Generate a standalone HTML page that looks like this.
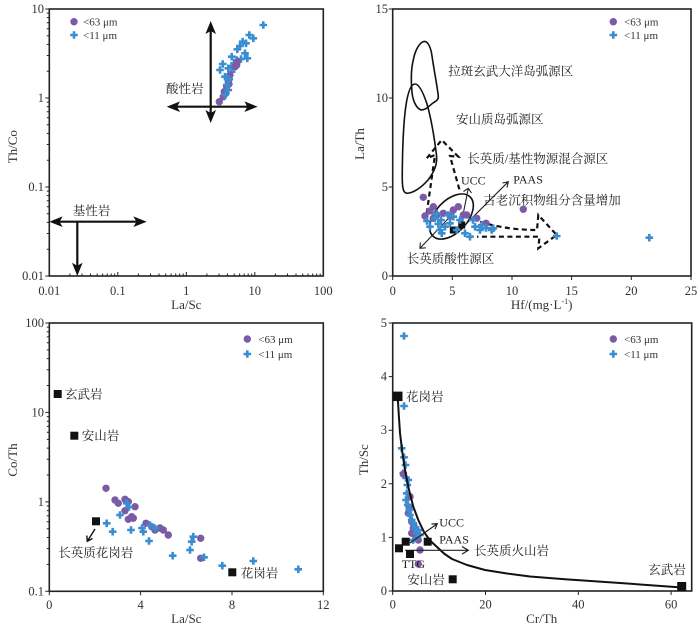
<!DOCTYPE html>
<html><head><meta charset="utf-8"><style>
html,body{margin:0;padding:0;background:#fff;}
svg{display:block;}
.t{font-family:"Liberation Serif","Noto Serif CJK SC",serif;fill:#222;}
.tk{font-size:12.5px;fill:#333;}
.ax{font-size:13px;fill:#333;}
.cn{font-size:12.5px;}
.lg{font-size:11px;fill:#333;}
</style></head><body>
<svg width="700" height="627" viewBox="0 0 700 627" xmlns="http://www.w3.org/2000/svg">
<defs>
<path id="p" d="M-3.8,0H3.8M0,-3.8V3.8" stroke="#3a8dd0" stroke-width="2.6" fill="none"/>
<circle id="c" r="3.7" fill="#7b5ba6"/>
</defs>

<!-- ============ PANEL 1 ============ -->
<g stroke="#222" fill="none">
<rect x="49.3" y="9" width="274" height="267" stroke-width="1.6"/>
<path stroke-width="1" d="M49.3,9h-4M49.3,98h-4M49.3,187h-4M49.3,276h-4
M49.3,249.2h-2.5M49.3,233.5h-2.5M49.3,222.4h-2.5M49.3,213.8h-2.5M49.3,206.7h-2.5M49.3,200.8h-2.5M49.3,195.6h-2.5M49.3,191.1h-2.5
M49.3,160.2h-2.5M49.3,144.5h-2.5M49.3,133.4h-2.5M49.3,124.8h-2.5M49.3,117.7h-2.5M49.3,111.8h-2.5M49.3,106.6h-2.5M49.3,102.1h-2.5
M49.3,71.2h-2.5M49.3,55.5h-2.5M49.3,44.4h-2.5M49.3,35.8h-2.5M49.3,28.7h-2.5M49.3,22.8h-2.5M49.3,17.6h-2.5M49.3,13.1h-2.5
M49.3,276v-4M117.8,276v-4M186.3,276v-4M254.8,276v-4M323.3,276v-4
M69.9,276v-2.5M82,276v-2.5M90.5,276v-2.5M97.2,276v-2.5M102.6,276v-2.5M107.2,276v-2.5M111.2,276v-2.5M114.7,276v-2.5
M138.4,276v-2.5M150.5,276v-2.5M159,276v-2.5M165.7,276v-2.5M171.1,276v-2.5M175.7,276v-2.5M179.7,276v-2.5M183.2,276v-2.5
M206.9,276v-2.5M219,276v-2.5M227.5,276v-2.5M234.2,276v-2.5M239.6,276v-2.5M244.2,276v-2.5M248.2,276v-2.5M251.7,276v-2.5
M275.4,276v-2.5M287.5,276v-2.5M296,276v-2.5M302.7,276v-2.5M308.1,276v-2.5M312.7,276v-2.5M316.7,276v-2.5M320.2,276v-2.5"/>
</g>
<g class="t tk" text-anchor="end">
<text x="44" y="13">10</text><text x="44" y="102">1</text><text x="44" y="191">0.1</text><text x="44" y="280">0.01</text>
</g>
<g class="t tk" text-anchor="middle">
<text x="49.3" y="295">0.01</text><text x="117.8" y="295">0.1</text><text x="186.3" y="295">1</text><text x="254.8" y="295">10</text><text x="323.3" y="295">100</text>
</g>
<text class="t ax" x="186.3" y="309" text-anchor="middle">La/Sc</text>
<text class="t ax" transform="translate(17,146.7) rotate(-90)" text-anchor="middle">Th/Co</text>
<g stroke="#111" stroke-width="2.2" fill="none">
<path d="M210.7,30V114M176,106.7H248"/>
<path d="M58,221.7H138M77.3,221.7V266"/>
</g>
<g fill="#111">
<polygon points="210.7,21 216,34 210.7,31 205.4,34"/>
<polygon points="210.7,123 216,110 210.7,113 205.4,110"/>
<polygon points="166.7,106.7 180,101.4 177,106.7 180,112"/>
<polygon points="257.7,106.7 244.4,101.4 247.4,106.7 244.4,112"/>
<polygon points="49.3,221.7 62.6,216.4 59.6,221.7 62.6,227"/>
<polygon points="146.7,221.7 133.4,216.4 136.4,221.7 133.4,227"/>
<polygon points="77.3,276 82.6,262.7 77.3,265.7 72,262.7"/>
</g>
<text class="t cn" x="166" y="93">酸性岩</text>
<text class="t cn" x="72.7" y="215">基性岩</text>
<g>
<use href="#p" x="263.3" y="25"/><use href="#p" x="249.3" y="35"/><use href="#p" x="253.3" y="38.3"/><use href="#p" x="242.7" y="41.7"/><use href="#p" x="246" y="43.3"/><use href="#p" x="240" y="46"/><use href="#p" x="237.3" y="49.3"/><use href="#p" x="245" y="53.3"/><use href="#p" x="247.3" y="58.3"/><use href="#p" x="231.7" y="56.7"/><use href="#p" x="236.7" y="60"/><use href="#p" x="234" y="63.3"/><use href="#p" x="222.7" y="64"/><use href="#p" x="220" y="70"/><use href="#p" x="228.3" y="68.3"/><use href="#p" x="231.7" y="71.7"/><use href="#p" x="241" y="59"/><use href="#p" x="233" y="66"/>
<use href="#c" x="237.3" y="61.7"/><use href="#c" x="235" y="66.7"/><use href="#c" x="236.7" y="65"/><use href="#c" x="230" y="75"/><use href="#c" x="228.3" y="81.7"/><use href="#c" x="229" y="84"/><use href="#c" x="226.7" y="86.7"/><use href="#c" x="224.3" y="91.7"/><use href="#c" x="226" y="93"/><use href="#c" x="223.3" y="96.7"/><use href="#c" x="219.3" y="101.7"/>
<use href="#p" x="225" y="76.7"/><use href="#p" x="229.3" y="79.3"/><use href="#p" x="226.7" y="85"/><use href="#p" x="228.3" y="90"/><use href="#p" x="225" y="95"/>
</g>
<use href="#c" x="74" y="21.7"/><text class="t lg" x="83" y="25.5">&lt;63 μm</text>
<use href="#p" x="74" y="35"/><text class="t lg" x="83" y="38.8">&lt;11 μm</text>

<!-- ============ PANEL 2 ============ -->
<g stroke="#222" fill="none">
<rect x="392.7" y="9" width="298.3" height="267" stroke-width="1.6"/>
<path stroke-width="1" d="M392.7,9h-4M392.7,98h-4M392.7,187h-4M392.7,276h-4
M392.7,276v4M452.3,276v4M512,276v4M571.6,276v4M631.3,276v4M691,276v4"/>
</g>
<g class="t tk" text-anchor="end">
<text x="388" y="13">15</text><text x="388" y="102">10</text><text x="388" y="191">5</text><text x="388" y="280">0</text>
</g>
<g class="t tk" text-anchor="middle">
<text x="392.7" y="295">0</text><text x="452.3" y="295">5</text><text x="512" y="295">10</text><text x="571.6" y="295">15</text><text x="631.3" y="295">20</text><text x="691" y="295">25</text>
</g>
<text class="t ax" x="541.7" y="309" text-anchor="middle">Hf/(mg·L<tspan dy="-5" font-size="8">-1</tspan><tspan dy="5">)</tspan></text>
<text class="t ax" transform="translate(364,144) rotate(-90)" text-anchor="middle">La/Th</text>
<g stroke="#111" stroke-width="1.6" fill="none" stroke-linejoin="round">
<path d="M413.3,60 C415,50 420,42 424,41.5 C428,41 431,48 432,56 C434,70 437,85 438.3,96 C438.5,100 436,101 433,103 C429,106 426,110 421,110 C416,108 412,100 411.7,88 C411,78 411.5,67 413.3,60Z"/>
<path d="M415,84 C419,84 423,92 427,104 C431,118 434,135 436.5,155 C437.5,165 434,172 428,180 C421,188 413,193 407,193.3 C403,193 402,188 402.3,172 C402.5,150 403,125 406,105 C408,92 411,84 415,84Z"/>
<ellipse cx="451.5" cy="216.5" rx="27" ry="16" transform="rotate(-47 451.5 216.5)"/>
</g>
<g stroke="#111" stroke-width="2.2" fill="none" stroke-dasharray="5,3.5" stroke-linejoin="miter">
<path d="M426.7,213.3 L435,155 L426.7,158.3 L441.7,140 L458.3,156.7 L450,156 L460,191.7"/>
<path d="M480,221.7 C500,228 520,230 537,230 L538.3,215 L556.7,235 L538.3,248.3 L539.5,236.7 L477,236.7"/>
</g>
<g stroke="#222" stroke-width="1.1" fill="none">
<path d="M460,230 L468.3,188.3 M463.5,191.5 L468.3,188.3 L471.5,193"/>
<path d="M463.3,226.7 L508.3,181.7 M502.5,183 L508.3,181.7 L507,187.5"/>
<path d="M450,216.7 L420,248.3 M420.3,242.5 L420,248.3 L425.8,247.8"/>
</g>
<rect x="449.8" y="226.5" width="7" height="7" fill="#111"/>
<rect x="458.2" y="221.5" width="7" height="7" fill="#111"/>
<g>
<use href="#c" x="423.3" y="197.3"/><use href="#c" x="430" y="211"/><use href="#c" x="425" y="216"/><use href="#c" x="433.3" y="206.7"/><use href="#c" x="433.3" y="218.3"/><use href="#c" x="436.7" y="215"/><use href="#c" x="443.3" y="213.3"/><use href="#c" x="450" y="216"/><use href="#c" x="453.3" y="210"/><use href="#c" x="458.3" y="206.7"/><use href="#c" x="463.3" y="215"/><use href="#c" x="466.7" y="215"/><use href="#c" x="476.7" y="218.3"/><use href="#c" x="486" y="223.3"/><use href="#c" x="523.3" y="209.3"/>
<use href="#p" x="430" y="226.7"/><use href="#p" x="438.3" y="224"/><use href="#p" x="440" y="230"/><use href="#p" x="445" y="226.7"/><use href="#p" x="450" y="223.3"/><use href="#p" x="441.7" y="233.3"/><use href="#p" x="456.7" y="230"/><use href="#p" x="465" y="233.3"/><use href="#p" x="470" y="236.7"/><use href="#p" x="475" y="226.7"/><use href="#p" x="480" y="230"/><use href="#p" x="481.7" y="225"/><use href="#p" x="491.7" y="230"/><use href="#p" x="493.3" y="228.3"/><use href="#p" x="556.7" y="236"/><use href="#p" x="649.3" y="237.7"/><use href="#p" x="435" y="218.3"/><use href="#p" x="436.7" y="213.3"/><use href="#p" x="448.3" y="215"/><use href="#p" x="453.3" y="216.7"/><use href="#p" x="460" y="220"/><use href="#p" x="473" y="220"/><use href="#p" x="486" y="228"/><use href="#p" x="441" y="220"/><use href="#p" x="427" y="221"/>
</g>
<g class="t cn">
<text x="448.3" y="75.5">拉斑玄武大洋岛弧源区</text>
<text x="456" y="123.5">安山质岛弧源区</text>
<text x="467.3" y="162.8">长英质/基性物源混合源区</text>
<text x="461" y="184.5" font-size="12">UCC</text>
<text x="513.3" y="183.5" font-size="12">PAAS</text>
<text x="483.3" y="204.5">古老沉积物组分含量增加</text>
<text x="406.7" y="262.8">长英质酸性源区</text>
</g>
<use href="#c" x="613.3" y="21.7"/><text class="t lg" x="624" y="25.5">&lt;63 μm</text>
<use href="#p" x="613.3" y="35"/><text class="t lg" x="624" y="38.8">&lt;11 μm</text>

<!-- ============ PANEL 3 ============ -->
<g stroke="#222" fill="none">
<rect x="49.3" y="323" width="274" height="268.3" stroke-width="1.6"/>
<path stroke-width="1" d="M49.3,323h-4M49.3,412.4h-4M49.3,501.9h-4M49.3,591.3h-4
M49.3,564.4h-2.5M49.3,548.6h-2.5M49.3,537.5h-2.5M49.3,528.8h-2.5M49.3,521.7h-2.5M49.3,515.8h-2.5M49.3,510.6h-2.5M49.3,506h-2.5
M49.3,475h-2.5M49.3,459.2h-2.5M49.3,448.1h-2.5M49.3,439.4h-2.5M49.3,432.3h-2.5M49.3,426.4h-2.5M49.3,421.2h-2.5M49.3,416.6h-2.5
M49.3,385.5h-2.5M49.3,369.7h-2.5M49.3,358.6h-2.5M49.3,349.9h-2.5M49.3,342.8h-2.5M49.3,336.9h-2.5M49.3,331.7h-2.5M49.3,327.1h-2.5
M49.3,591.3v4M140.6,591.3v4M232,591.3v4M323.3,591.3v4"/>
</g>
<g class="t tk" text-anchor="end">
<text x="44" y="327">100</text><text x="44" y="416.4">10</text><text x="44" y="505.9">1</text><text x="44" y="595.3">0.1</text>
</g>
<g class="t tk" text-anchor="middle">
<text x="49.3" y="609">0</text><text x="140.6" y="609">4</text><text x="232" y="609">8</text><text x="323.3" y="609">12</text>
</g>
<text class="t ax" x="186.3" y="623" text-anchor="middle">La/Sc</text>
<text class="t ax" transform="translate(17,460) rotate(-90)" text-anchor="middle">Co/Th</text>
<g fill="#111">
<rect x="53.7" y="390" width="8" height="8"/>
<rect x="70.3" y="431.7" width="8" height="8"/>
<rect x="92" y="517.3" width="8" height="8"/>
<rect x="228.3" y="568.3" width="8" height="8"/>
</g>
<path d="M95,529 L87.3,541.3 M86.8,535.5 L87.3,541.3 L92.5,538.5" stroke="#111" stroke-width="1.4" fill="none"/>
<g>
<use href="#c" x="106" y="488.3"/><use href="#c" x="115" y="500"/><use href="#c" x="118.3" y="503.3"/><use href="#c" x="125" y="499.3"/><use href="#c" x="128.3" y="501.7"/><use href="#c" x="135" y="506.7"/><use href="#c" x="125" y="510.7"/><use href="#c" x="131.7" y="516.7"/><use href="#c" x="128.3" y="519.3"/><use href="#c" x="133.3" y="518.3"/><use href="#c" x="146" y="523.3"/><use href="#c" x="151.7" y="526.7"/><use href="#c" x="155" y="530"/><use href="#c" x="163.3" y="530"/><use href="#c" x="168.3" y="535"/><use href="#c" x="160" y="528"/><use href="#c" x="200.7" y="538.3"/><use href="#c" x="200.7" y="558.3"/>
<use href="#p" x="126.7" y="503.3"/><use href="#p" x="129" y="507"/><use href="#p" x="120" y="515"/><use href="#p" x="106.7" y="523.3"/><use href="#p" x="112.7" y="531.7"/><use href="#p" x="131" y="530"/><use href="#p" x="143.3" y="531.7"/><use href="#p" x="150" y="525"/><use href="#p" x="155" y="528.3"/><use href="#p" x="149" y="541"/><use href="#p" x="142" y="528"/><use href="#p" x="172.7" y="555.7"/><use href="#p" x="190" y="550"/><use href="#p" x="191.7" y="541.7"/><use href="#p" x="193.3" y="536.7"/><use href="#p" x="204" y="557.3"/><use href="#p" x="222.3" y="565.7"/><use href="#p" x="253.3" y="561"/><use href="#p" x="298.3" y="569.3"/>
</g>
<g class="t cn">
<text x="65" y="398.5">玄武岩</text>
<text x="81.7" y="440.2">安山岩</text>
<text x="58.3" y="556.8">长英质花岗岩</text>
<text x="240.7" y="577.5">花岗岩</text>
</g>
<use href="#c" x="247.3" y="339"/><text class="t lg" x="258.3" y="342.8">&lt;63 μm</text>
<use href="#p" x="247.3" y="354"/><text class="t lg" x="258.3" y="357.8">&lt;11 μm</text>

<!-- ============ PANEL 4 ============ -->
<g stroke="#222" fill="none">
<rect x="392.7" y="323" width="299" height="268" stroke-width="1.6"/>
<path stroke-width="1" d="M392.7,323h-4M392.7,376.6h-4M392.7,430.2h-4M392.7,483.8h-4M392.7,537.4h-4M392.7,591h-4
M392.7,591v4M485.5,591v4M578.3,591v4M671.1,591v4"/>
</g>
<g class="t tk" text-anchor="end">
<text x="387" y="327">5</text><text x="387" y="380.6">4</text><text x="387" y="434.2">3</text><text x="387" y="487.8">2</text><text x="387" y="541.4">1</text><text x="387" y="595">0</text>
</g>
<g class="t tk" text-anchor="middle">
<text x="392.7" y="608.5">0</text><text x="485.5" y="608.5">20</text><text x="578.3" y="608.5">40</text><text x="671.1" y="608.5">60</text>
</g>
<text class="t ax" x="541.7" y="623" text-anchor="middle">Cr/Th</text>
<text class="t ax" transform="translate(368,459.7) rotate(-90)" text-anchor="middle">Th/Sc</text>
<g>
<use href="#p" x="404" y="336"/><use href="#p" x="404" y="406"/><use href="#p" x="401.7" y="448.3"/><use href="#p" x="404" y="457.3"/><use href="#p" x="405.5" y="465"/><use href="#p" x="403.3" y="473.3"/><use href="#p" x="406" y="478"/><use href="#p" x="408.3" y="480"/><use href="#p" x="407.3" y="485"/>
<use href="#c" x="403.3" y="474"/><use href="#c" x="410" y="496.7"/><use href="#c" x="409" y="507"/><use href="#c" x="408.3" y="513.3"/><use href="#c" x="411.7" y="521.7"/><use href="#c" x="414" y="526"/><use href="#c" x="413.3" y="528.3"/><use href="#c" x="411.7" y="533.3"/><use href="#c" x="416.7" y="536.7"/><use href="#c" x="418.3" y="540"/><use href="#c" x="420" y="550"/><use href="#c" x="418.3" y="564"/>
<use href="#p" x="406.7" y="493.3"/><use href="#p" x="406" y="500"/><use href="#p" x="407.7" y="505"/><use href="#p" x="409.3" y="510"/><use href="#p" x="410" y="515"/><use href="#p" x="411.7" y="520"/><use href="#p" x="413.3" y="523.3"/><use href="#p" x="415" y="528.3"/><use href="#p" x="416.7" y="533.3"/><use href="#p" x="413.3" y="540"/><use href="#p" x="418.3" y="530"/><use href="#p" x="420" y="535"/>
</g>
<polyline points="397.7,396.3 398.8,415 400,433 402.3,452 405,470 408.8,489 413.3,506.7 418.3,520 424,532 430,540.5 437,547 444,553.5 452,559 467,565 485,570 507,573.5 530,576.5 565,579.2 620,583 681.7,587.5" stroke="#111" stroke-width="2" fill="none" stroke-linejoin="round"/>
<g stroke="#222" stroke-width="1.2" fill="none">
<path d="M410,543 L437.3,523.7 M431.5,524 L437.3,523.7 L435,529"/>
<path d="M405,550.3 L468.3,550.3 M462,546.5 L468.3,550.3 L462,554.1"/>
</g>
<g fill="#111">
<rect x="393" y="391.6" width="9.5" height="9.5"/>
<rect x="395" y="544.3" width="8" height="8"/>
<rect x="401.7" y="537.7" width="8" height="8"/>
<rect x="406" y="550" width="8" height="8"/>
<rect x="423.7" y="537.7" width="8" height="8"/>
<rect x="448.7" y="575.3" width="8" height="8"/>
<rect x="677.2" y="582" width="9" height="9"/>
</g>
<g class="t cn">
<text x="406" y="400.8">花岗岩</text>
<text x="439.3" y="526.5" font-size="12">UCC</text>
<text x="439.3" y="543.5" font-size="12">PAAS</text>
<text x="474" y="554.8">长英质火山岩</text>
<text x="401.7" y="568" font-size="12">TTG</text>
<text x="407.3" y="584.2">安山岩</text>
<text x="648.3" y="574.2">玄武岩</text>
</g>
<use href="#c" x="613.3" y="339"/><text class="t lg" x="624" y="342.8">&lt;63 μm</text>
<use href="#p" x="613.3" y="354"/><text class="t lg" x="624" y="357.8">&lt;11 μm</text>
</svg>
</body></html>
